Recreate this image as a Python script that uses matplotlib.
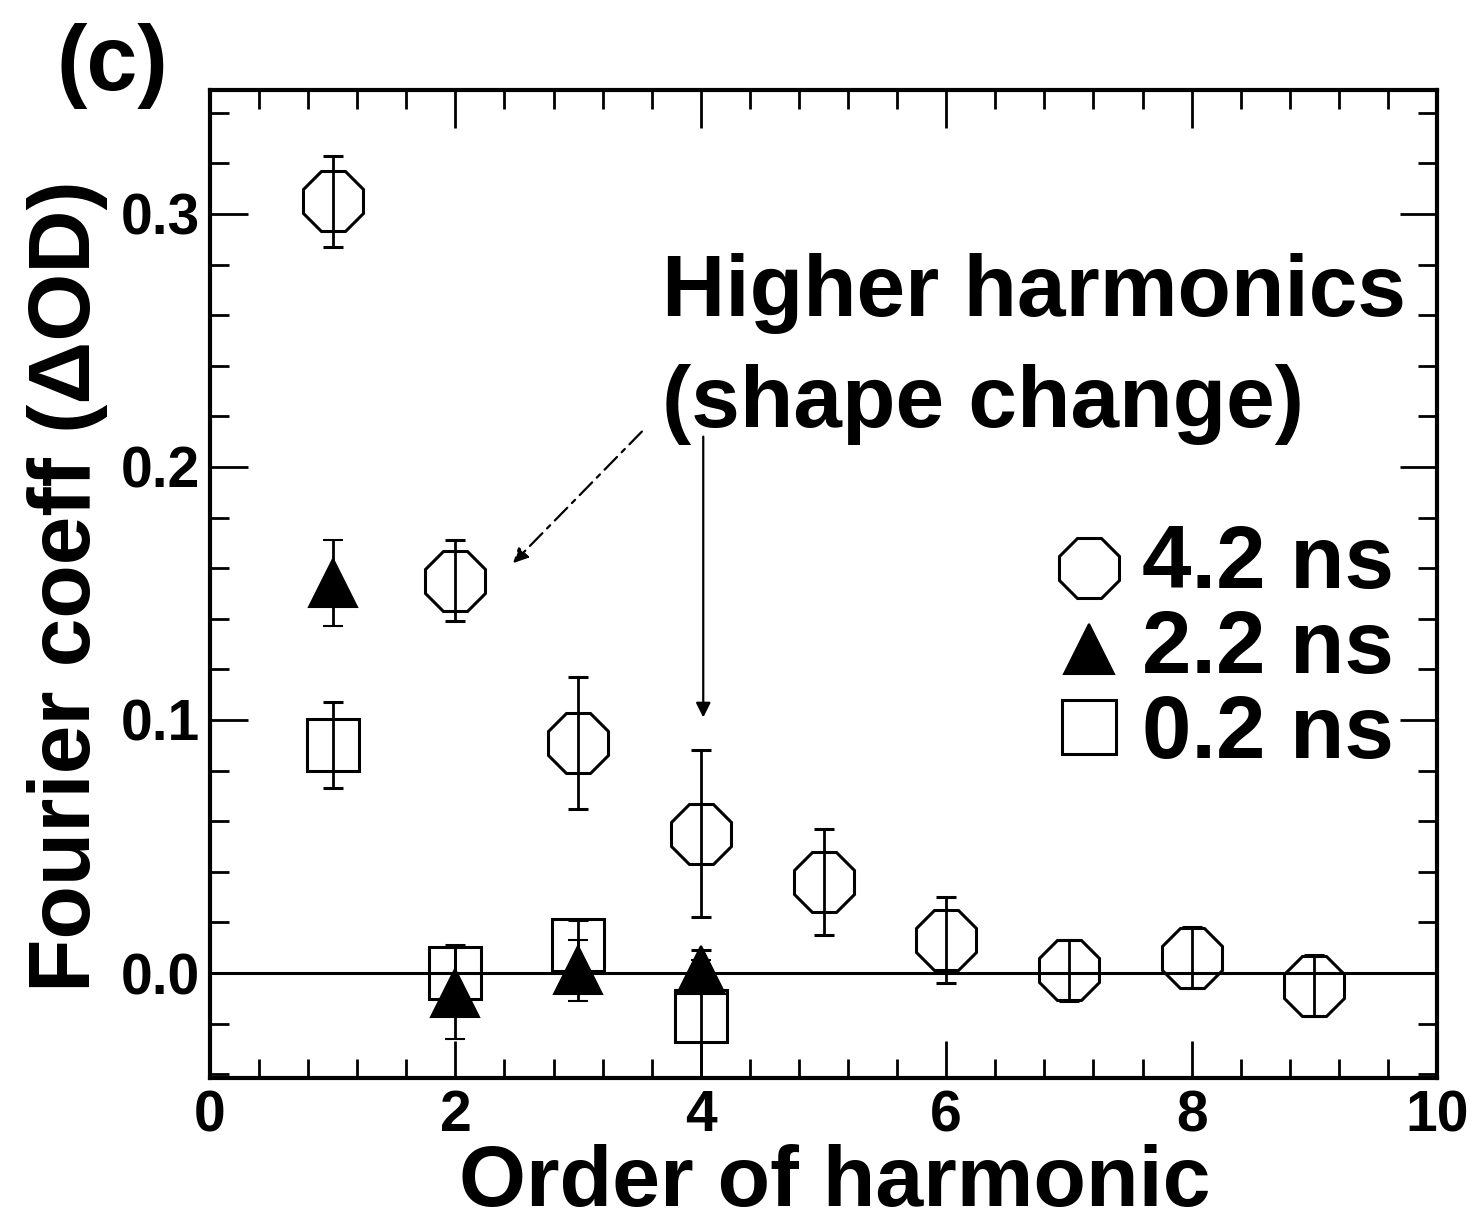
import matplotlib
matplotlib.use("Agg")
import matplotlib.pyplot as plt
from matplotlib.lines import Line2D
from matplotlib.ticker import MultipleLocator

plt.rcParams['font.family'] = ['Liberation Sans', 'DejaVu Sans']
plt.rcParams['font.weight'] = 'bold'

# Fourier coefficients (ΔOD) versus harmonic order for three delays
orders_42 = [1, 2, 3, 4, 5, 6, 7, 8, 9]
coef_42 = [0.305, 0.155, 0.091, 0.055, 0.036, 0.013, 0.001, 0.006, -0.005]
err_42 = [0.018, 0.016, 0.026, 0.033, 0.021, 0.017, 0.012, 0.012, 0.012]

orders_22 = [1, 2, 3, 4]
coef_22 = [0.154, -0.008, 0.001, 0.001]
err_22 = [0.017, 0.018, 0.012, 0.004]

orders_02 = [1, 2, 3, 4]
coef_02 = [0.090, 0.000, 0.011, -0.017]
err_02 = [0.017, 0.011, 0.010, 0.026]

legend_labels = ["4.2 ns", "2.2 ns", "0.2 ns"]
x_ticks = [0, 2, 4, 6, 8, 10]
y_ticks = [0.0, 0.1, 0.2, 0.3]

W, H = 1476, 1229
fig = plt.figure(figsize=(W / 100, H / 100), dpi=100)
ax = fig.add_axes([210 / W, 1 - 1078 / H, (1437 - 210) / W, (1078 - 90) / H])

ax.set_xlim(0, 10)
ax.set_ylim(-0.0415, 0.349)

ax.axhline(0, color='black', lw=2.2, zorder=1)

err_kw = dict(ecolor='black', elinewidth=2.0, capsize=7, capthick=2.6, linestyle='none')

ax.errorbar(orders_42, coef_42, yerr=err_42, marker='8', ms=47, mfc='none',
            mec='black', mew=2.2, zorder=3, **err_kw)
ax.errorbar(orders_02, coef_02, yerr=err_02, marker='s', ms=38, mfc='none',
            mec='black', mew=2.2, zorder=3, **err_kw)
ax.errorbar(orders_22, coef_22, yerr=err_22, marker='^', ms=34, mfc='black',
            mec='black', mew=1.5, zorder=4, **err_kw)

# annotation
ax.text(3.68, 0.2595, "Higher harmonics", fontsize=63, fontweight='bold',
        ha='left', va='baseline')
ax.text(3.68, 0.2160, "(shape change)", fontsize=63, fontweight='bold',
        ha='left', va='baseline')
ax.annotate("", xy=(4.02, 0.101), xytext=(4.02, 0.212),
            arrowprops=dict(arrowstyle='-|>', color='black', lw=1.6,
                            mutation_scale=22, shrinkA=0, shrinkB=0))
ax.annotate("", xy=(2.47, 0.162), xytext=(3.52, 0.214),
            arrowprops=dict(arrowstyle='-|>', color='black', lw=1.6,
                            linestyle=(0, (8, 3, 2, 3)),
                            mutation_scale=22, shrinkA=0, shrinkB=0))

# legend drawn as markers + text
leg_markers = [dict(marker='8', ms=47, mfc='none', mec='black', mew=2.2),
               dict(marker='^', ms=36, mfc='black', mec='black', mew=1.5),
               dict(marker='s', ms=39, mfc='none', mec='black', mew=2.2)]
leg_marker_y = [568, 649, 727]
leg_text_base = [588, 673, 758]
for lab, mk, my, ty in zip(legend_labels, leg_markers, leg_marker_y, leg_text_base):
    fig.add_artist(Line2D([1089 / W], [1 - my / H], transform=fig.transFigure,
                          linestyle='none', **mk))
    fig.text(1142 / W, 1 - ty / H, lab, fontsize=64, fontweight='bold',
             ha='left', va='baseline')

# axes styling
ax.xaxis.set_major_locator(MultipleLocator(2))
ax.xaxis.set_minor_locator(MultipleLocator(0.4))
ax.yaxis.set_major_locator(MultipleLocator(0.1))
ax.yaxis.set_minor_locator(MultipleLocator(0.02))
ax.set_xticks(x_ticks)
ax.set_xticklabels([str(t) for t in x_ticks])
ax.set_yticks(y_ticks)
ax.set_yticklabels([f"{t:.1f}" for t in y_ticks])
ax.tick_params(which='both', direction='in', top=True, right=True, width=2.0)
ax.tick_params(which='major', length=27, labelsize=41)
ax.tick_params(which='minor', length=14)
ax.tick_params(axis='x', which='major', pad=8)
ax.tick_params(axis='y', which='major', pad=7)
for lab in ax.get_xticklabels() + ax.get_yticklabels():
    lab.set_fontweight('bold')
for sp in ax.spines.values():
    sp.set_linewidth(3.0)

fig.text(835 / W, 1 - 1206 / H, "Order of harmonic", fontsize=62,
         fontweight='bold', ha='center', va='baseline')
fig.text(68 / W, 1 - 586 / H, "Fourier coeff (ΔOD)", fontsize=63,
         fontweight='bold', rotation=90, ha='center', va='center')
fig.text(112 / W, 1 - 90 / H, "(c)", fontsize=66, fontweight='bold',
         ha='center', va='baseline')

fig.savefig("out.png", dpi=100)
